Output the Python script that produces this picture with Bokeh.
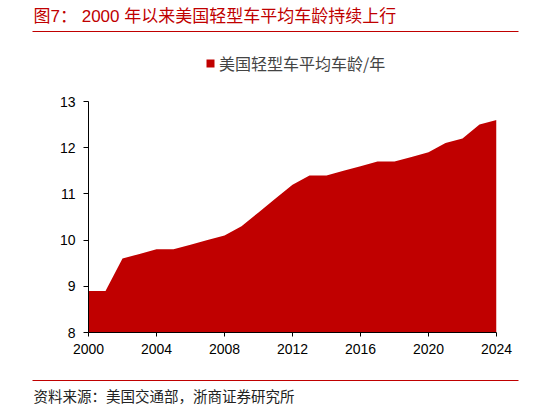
from bokeh.plotting import figure
from bokeh.layouts import column
from bokeh.models import Label, Legend, LegendItem, FixedTicker
from bokeh.embed import file_html
from bokeh.resources import INLINE

# 美国轻型车平均车龄 (年)
years = list(range(2000, 2025))
avg_age = [8.9, 8.9, 9.6, 9.7, 9.8, 9.8, 9.9, 10.0, 10.1, 10.3, 10.6, 10.9, 11.2,
           11.4, 11.4, 11.5, 11.6, 11.7, 11.7, 11.8, 11.9, 12.1, 12.2, 12.5, 12.6]
x_ticks = [2000, 2004, 2008, 2012, 2016, 2020, 2024]
y_ticks = [8, 9, 10, 11, 12, 13]

title_text = "图7：  2000 年以来美国轻型车平均车龄持续上行"
series_name = "美国轻型车平均车龄/年"
source_text = "资料来源：美国交通部，浙商证券研究所"

RED = "#C00000"
FONT = "Liberation Sans, Noto Sans CJK SC"
W = 540


def strip(h):
    # plain figure used for the header / footer text and rule lines
    s = figure(width=W, height=h, output_backend="svg", toolbar_location=None,
               x_range=(0, W), y_range=(0, h), x_axis_location=None, y_axis_location=None,
               min_border=0, frame_align=False)
    s.outline_line_color = None
    s.xgrid.grid_line_color = None
    s.ygrid.grid_line_color = None
    return s


# header: title, red rule, legend
head = strip(85)
head.add_layout(Label(x=33, y=69, text=title_text, text_font=FONT, text_font_size="17px",
                      text_color=RED, text_baseline="middle"))
head.segment(x0=32, y0=54, x1=518, y1=54, line_color=RED, line_width=1)

# main chart
p = figure(width=W, height=285, output_backend="svg", toolbar_location=None,
           x_range=(2000, 2024), y_range=(8, 13), frame_align=False,
           min_border_left=88, min_border_right=44,
           min_border_top=16, min_border_bottom=38)
p.outline_line_color = None
p.xgrid.grid_line_color = None
p.ygrid.grid_line_color = None

area = p.varea(x=years, y1=8, y2=avg_age, fill_color=RED)

p.xaxis.ticker = FixedTicker(ticks=x_ticks)
p.yaxis.ticker = FixedTicker(ticks=y_ticks)
for ax in (p.xaxis, p.yaxis):
    ax.axis_line_color = "black"
    ax.axis_line_width = 1
    ax.major_tick_in = 0
    ax.minor_tick_line_color = None
    ax.major_label_text_font = "Liberation Sans"
    ax.major_label_text_font_size = "14px"
    ax.major_label_text_color = "black"
p.xaxis.major_tick_out = 4
p.xaxis.major_label_standoff = 7
p.yaxis.major_tick_out = 5
p.yaxis.major_label_standoff = 8

# legend swatch lives in the header strip (off-screen rect), same fill as the area
swatch = head.rect(x=[-50], y=[-50], width=10, height=10, fill_color=RED, line_color=None)
legend = Legend(items=[LegendItem(label=series_name, renderers=[swatch])],
                location=(205, 10), orientation="horizontal", padding=0, margin=0,
                glyph_width=10, glyph_height=10, label_standoff=4,
                border_line_color=None, background_fill_alpha=0,
                label_text_font="Noto Sans CJK SC", label_text_font_size="16px")
head.add_layout(legend, "center")

# footer
foot = strip(40)
foot.segment(x0=32, y0=30, x1=518, y1=30, line_color=RED, line_width=1)
foot.add_layout(Label(x=33, y=15, text=source_text, text_font="Noto Sans CJK SC",
                      text_font_size="14.5px", text_color="#222222", text_baseline="middle"))

open("out.html", "w").write(file_html(column(head, p, foot), INLINE))
